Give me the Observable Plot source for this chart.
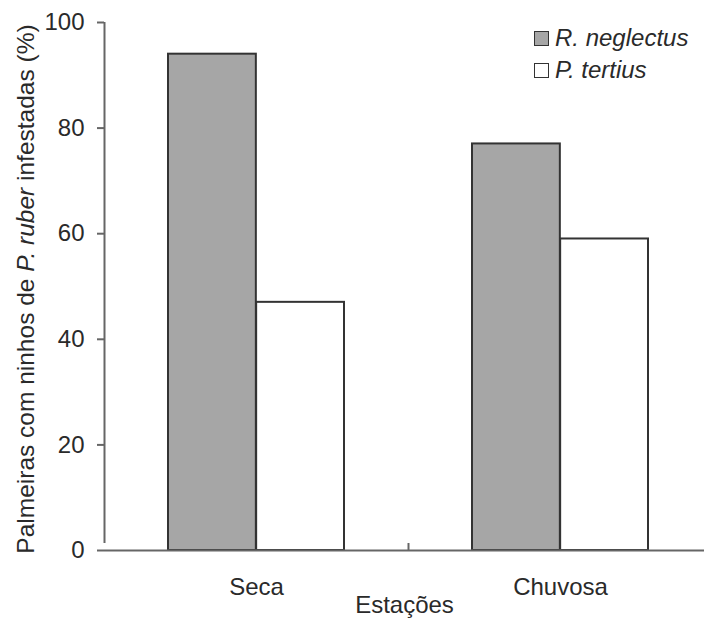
<!DOCTYPE html>
<html>
<head>
<meta charset="utf-8">
<script src="https://cdn.jsdelivr.net/npm/d3@7"></script>
<script src="https://cdn.jsdelivr.net/npm/@observablehq/plot@0.6"></script>
<style>
  body { margin: 0; background: #fff; }
  #wrap { position: relative; width: 704px; height: 619px; font-family: "Liberation Sans", Arial, sans-serif; color: #2a2a2a; }
  #legend { position: absolute; left: 534px; top: 22px; font-size: 24px; font-style: italic; line-height: 32px; }
  #legend .row { display: flex; align-items: center; }
  #legend .sw { width: 13px; height: 13px; border: 1.5px solid #333; margin-right: 6px; box-sizing: content-box; }
</style>
</head>
<body>
<div id="wrap"></div>
<script>
const seasons = ["Seca", "Chuvosa"];
const seriesNames = ["R. neglectus", "P. tertius"];
const rNeglectus = [94, 77];
const pTertius = [47, 59];
const yTicks = [0, 20, 40, 60, 80, 100];
const seriesColors = ["#a6a6a6", "#ffffff"];

const dataR = seasons.map((s, i) => ({season: s, value: rNeglectus[i]}));
const dataP = seasons.map((s, i) => ({season: s, value: pTertius[i]}));

const xRange = [104, 712];
const padIn = 0.42, padOut = 0.21;
const step = (xRange[1] - xRange[0]) / (seasons.length - padIn + 2 * padOut);
const bw = step * (1 - padIn);

const chart = Plot.plot({
  width: 704,
  height: 619,
  marginLeft: 104,
  marginRight: 0,
  marginTop: 22,
  marginBottom: 69,
  style: {fontFamily: '"Liberation Sans", Arial, sans-serif', fontSize: "24px", color: "#2a2a2a", background: "transparent"},
  x: {domain: seasons, range: xRange, paddingInner: padIn, paddingOuter: padOut, align: 0.5},
  y: {domain: [0, 100], ticks: yTicks},
  marks: [
    Plot.barY(dataR, {x: "season", y: "value", fill: seriesColors[0], stroke: "#333", strokeWidth: 2, insetRight: bw / 2}),
    Plot.barY(dataP, {x: "season", y: "value", fill: seriesColors[1], stroke: "#333", strokeWidth: 2, insetLeft: bw / 2}),
    Plot.ruleY([0], {stroke: "#666", strokeWidth: 2}),
    Plot.ruleX(seasons.slice(0, 1), {x: d => d, y1: 0, y2: 100, dx: -step / 2, insetTop: -7, stroke: "#666", strokeWidth: 2}),
    Plot.ruleX(seasons.slice(1), {x: d => d, y1: 0, y2: 0, dx: -step / 2, insetTop: -7, stroke: "#666", strokeWidth: 2}),
    Plot.axisY({ticks: yTicks, tickSize: 7, tickPadding: 13, label: null, stroke: "#666", strokeWidth: 2}),
    Plot.axisX({tickSize: 0, tickPadding: 27, label: "Estações", labelAnchor: "center", labelOffset: 62, labelArrow: "none"})
  ]
});

document.getElementById("wrap").appendChild(chart);

// Y axis title with italic species name
const svg = d3.select(chart);
const t = svg.append("text")
  .attr("transform", "translate(25,289) rotate(-90)")
  .attr("text-anchor", "middle")
  .attr("dominant-baseline", "central")
  .attr("fill", "#2a2a2a")
  .style("font-size", "24.5px");
t.append("tspan").text("Palmeiras com ninhos de ");
t.append("tspan").attr("font-style", "italic").text("P. ruber");
t.append("tspan").text(" infestadas (%)");

// Legend
const legend = d3.select("#wrap").append("div").attr("id", "legend");
seriesNames.forEach((name, i) => {
  const row = legend.append("div").attr("class", "row");
  row.append("div").attr("class", "sw").style("background", seriesColors[i]);
  row.append("span").text(name);
});
</script>
</body>
</html>
